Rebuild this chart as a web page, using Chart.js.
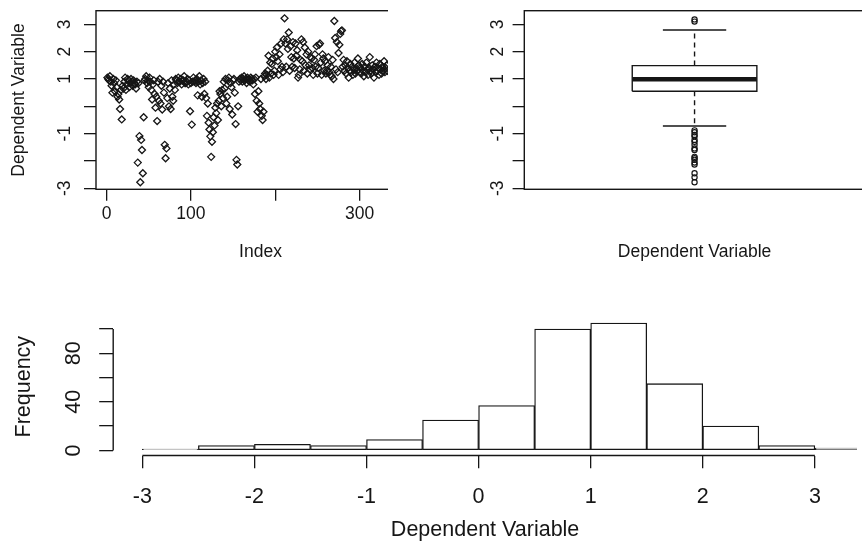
<!DOCTYPE html>
<html>
<head>
<meta charset="utf-8">
<script src="https://cdn.jsdelivr.net/npm/chart.js@4.4.1/dist/chart.umd.min.js"></script>
<style>
  html, body { margin: 0; padding: 0; background: #fff; overflow: hidden; }
  #page { position: relative; width: 862px; height: 545px; overflow: hidden; background: #fff; }
  .panel { position: absolute; overflow: hidden; }
  canvas { display: block; }
</style>
</head>
<body>
<div id="page">
  <div class="panel" style="left:0;top:0;width:388px;height:290px"><canvas id="indexChart" width="440" height="290"></canvas></div>
  <div class="panel" style="left:430px;top:0;width:432px;height:290px"><canvas id="boxChart" width="440" height="290"></canvas></div>
  <div class="panel" style="left:0;top:290px;width:862px;height:255px"><canvas id="histChart" width="920" height="255"></canvas></div>
</div>
<script>
const depValues = [
  1.05, 1.0, 0.95, 1.1, 0.9, 0.75, 0.5, 1.0, 0.85, 0.55,
  0.95, 0.7, 0.35, 0.45, 0.25, -0.1, 0.6, -0.48, 0.75, 0.65,
  0.9, 1.05, 0.6, 0.8, 1.0, 0.95, 0.7, 0.85, 1.0, 0.9,
  0.75, 0.95, 0.85, 0.8, 0.65, 0.9, -2.06, 0.85, -1.09, -2.78,
  -1.23, -1.6, -2.45, -0.4, 0.95, 1.0, 1.1, 0.85, 0.95, 0.7,
  1.05, 0.9, 0.6, 0.25, 0.8, 0.95, 0.45, -0.05, 0.35, -0.54,
  0.9, 0.2, 1.0, 0.1, 0.75, -0.12, 0.9, 0.5, -1.41, -1.9,
  -1.54, 0.3, 0.85, 0.0, 0.65, -0.1, 0.95, 0.35, 0.2, 0.8,
  0.6, 1.0, 0.95, 0.85, 1.05, 0.9, 0.9, 1.0, 0.8, 0.95,
  0.95, 1.1, 0.85, 0.85, 0.9, 1.0, 0.8, 0.95, -0.18, 0.85,
  -0.67, 0.9, 1.05, 0.9, 0.95, 0.85, 1.0, 0.4, 0.9, 1.1,
  0.8, 0.95, 0.35, 0.85, 1.0, 0.45, 0.9, 0.3, -0.35, 0.1,
  -0.6, -0.85, -1.1, -1.85, -1.3, -0.95, -0.4, -0.7, -0.05, -0.25,
  0.1, -0.5, 0.2, 0.55, 0.45, 0.0, 0.6, 0.3, 0.9, 0.65,
  1.0, 0.1, 0.35, 0.95, 1.05, -0.1, 0.85, 0.7, -0.3, 0.95,
  1.0, 0.5, -0.65, -1.96, -2.13, 0.0, 0.9, 1.0, 0.95, 1.05,
  0.9, 1.0, 1.1, 0.95, 1.0, 0.85, 1.05, 0.95, 1.0, 0.9,
  1.05, 1.0, 0.95, 0.8, 1.0, 0.45, 1.05, 0.2, -0.2, 0.55,
  0.1, -0.1, 1.0, -0.35, -0.5, -0.2, 1.1, 1.2, 1.0, 1.15,
  1.3, 1.85, 1.05, 1.6, 1.2, 1.55, 1.75, 1.15, 1.3, 2.0,
  1.8, 2.15, 1.65, 1.15, 1.9, 1.35, 2.3, 1.45, 1.25, 2.45,
  3.22, 2.3, 1.45, 2.45, 2.1, 2.7, 1.3, 2.2, 1.8, 1.45,
  2.35, 1.75, 1.4, 2.3, 1.85, 2.05, 1.05, 1.15, 1.35, 1.7,
  2.45, 1.65, 2.35, 1.3, 2.15, 1.5, 1.9, 1.2, 2.0, 1.5,
  1.35, 1.8, 1.75, 1.4, 1.15, 1.7, 1.9, 1.45, 2.2, 1.2,
  1.4, 2.25, 2.3, 1.6, 1.15, 1.9, 1.75, 1.3, 1.65, 1.2,
  1.3, 1.5, 1.8, 1.25, 1.15, 1.45, 1.1, 1.7, 1.0, 3.12,
  2.5, 1.35, 2.35, 1.25, 1.95, 2.25, 2.65, 2.75, 2.78, 1.45,
  1.7, 1.3, 1.5, 1.2, 1.65, 1.4, 1.05, 1.3, 1.55, 1.25,
  1.45, 1.15, 1.35, 1.6, 1.2, 1.4, 1.3, 1.75, 1.5, 1.25,
  1.4, 1.2, 1.55, 1.3, 1.1, 1.45, 1.25, 1.6, 1.35, 1.15,
  1.4, 1.8, 1.3, 1.2, 1.5, 1.35, 1.05, 1.45, 1.25, 1.6,
  1.3, 1.4, 1.15, 1.55, 1.35, 1.2, 1.45, 1.3, 1.65, 1.25, 1.4, 1.5, 1.3
];
const indexTicks = [0, 100, 200, 300];
const indexLabelled = [0, 100, 300];
const depTicks = [-3, -2, -1, 0, 1, 2, 3];
const depLabelled = [-3, -1, 1, 2, 3];

// boxplot: lower whisker, Q1, median, Q3, upper whisker
const boxStats = [-0.72, 0.55, 0.99, 1.49, 2.79];
const boxOutliers = [-0.88, -0.95, -1.05, -1.1, -1.23, -1.3, -1.41, -1.54, -1.6,
  -1.85, -1.9, -1.96, -2.06, -2.13, -2.45, -2.6, -2.78, 3.1, 3.18];

// histogram
const histBreaks = [-3, -2.5, -2, -1.5, -1, -0.5, 0, 0.5, 1, 1.5, 2, 2.5, 3, 3.5];
const histCounts = [1, 4, 5, 4, 9, 25, 37, 100, 105, 55, 20, 4, 2];
const histXTicks = [-3, -2, -1, 0, 1, 2, 3];
const histYTicks = [0, 20, 40, 60, 80, 100];
const freqLabelled = [0, 40, 80];

const INK = '#161616';
const FONT = "'Liberation Sans', Arial, sans-serif";
Chart.defaults.font.family = FONT;
Chart.defaults.color = INK;

// R style: box / partial axis lines and y labels turned to read upwards
const rPlot = {
  id: 'rPlot',
  afterDraw(chart, args, opts) {
    const ctx = chart.ctx;
    const area = chart.chartArea;
    ctx.save();
    ctx.strokeStyle = INK;
    ctx.lineWidth = 1.4;
    if (opts.box) {
      ctx.strokeRect(area.left, area.top, area.right - area.left, area.bottom - area.top);
    }
    (opts.axisLines || []).forEach(a => {
      const s = chart.scales[a.scale];
      const p0 = s.getPixelForValue(a.from);
      const p1 = s.getPixelForValue(a.to);
      ctx.beginPath();
      if (s.isHorizontal()) { ctx.moveTo(p0, area.bottom); ctx.lineTo(p1, area.bottom); }
      else { ctx.moveTo(area.left, p0); ctx.lineTo(area.left, p1); }
      ctx.stroke();
    });
    if (opts.yLabels) {
      const s = chart.scales.y;
      ctx.fillStyle = INK;
      ctx.font = opts.yLabels.size + 'px ' + FONT;
      ctx.textAlign = 'center';
      ctx.textBaseline = 'middle';
      opts.yLabels.values.forEach(v => {
        ctx.save();
        ctx.translate(opts.yLabels.x, s.getPixelForValue(v));
        ctx.rotate(-Math.PI / 2);
        ctx.fillText(String(v), 0, 0);
        ctx.restore();
      });
    }
    ctx.restore();
  }
};
Chart.register(rPlot);

const setTicks = values => s => { s.ticks = values.map(v => ({ value: v })); };
const fixWidth = w => s => { s.width = w; };
const fixHeight = h => s => { s.height = h; };
const tickMarks = len => ({ display: true, drawOnChartArea: false, drawTicks: true, offset: false,
  tickLength: len, tickColor: INK, tickWidth: 1.3, color: INK, lineWidth: 1.3 });

function baseOptions(padding, plot) {
  return {
    responsive: false,
    animation: false,
    devicePixelRatio: 1,
    events: [],
    layout: { padding },
    plugins: { legend: { display: false }, tooltip: { enabled: false }, rPlot: plot }
  };
}

// index plot
new Chart(document.getElementById('indexChart'), {
  type: 'scatter',
  data: {
    datasets: [{
      data: depValues.map((v, i) => ({ x: i + 1, y: v })),
      pointStyle: 'rectRot',
      pointRadius: 3.5,
      pointBorderWidth: 1.3,
      pointBorderColor: INK,
      pointBackgroundColor: 'rgba(0,0,0,0)'
    }]
  },
  options: Object.assign(baseOptions({ left: 0, top: 10.7, right: 15, bottom: 0 },
    { box: true, yLabels: { values: depLabelled, x: 65.5, size: 17.5 } }), {
    scales: {
      x: {
        type: 'linear', min: -12.5, max: 377.5,
        afterBuildTicks: setTicks(indexTicks), afterFit: fixHeight(100.7),
        ticks: { callback: v => indexLabelled.includes(v) ? String(v) : '', font: { size: 17.5 },
          padding: 2.7, autoSkip: false, maxRotation: 0 },
        grid: tickMarks(11.5), border: { display: false },
        title: { display: true, text: 'Index', font: { size: 17.5 }, padding: { top: 0, bottom: 27.5 } }
      },
      y: {
        type: 'linear', min: -3.037, max: 3.498,
        afterBuildTicks: setTicks(depTicks), afterFit: fixWidth(96),
        ticks: { display: false },
        grid: tickMarks(12), border: { display: false },
        title: { display: true, text: 'Dependent Variable', font: { size: 17.5 }, padding: { top: 9, bottom: 0 } }
      }
    }
  })
});

// boxplot
const [lowW, q1, med, q3, upW] = boxStats;
const BOX_HW = 0.183;
const CAP_HW = 0.093;
const seg = (pts, extra) => Object.assign({ data: pts, showLine: true, borderColor: INK, borderWidth: 1.4,
  pointRadius: 0, fill: false }, extra);

new Chart(document.getElementById('boxChart'), {
  type: 'scatter',
  data: {
    datasets: [
      seg([{ x: 1, y: q3 }, { x: 1, y: upW }], { borderDash: [5, 4] }),
      seg([{ x: 1, y: q1 }, { x: 1, y: lowW }], { borderDash: [5, 4] }),
      seg([{ x: 1 - CAP_HW, y: upW }, { x: 1 + CAP_HW, y: upW }]),
      seg([{ x: 1 - CAP_HW, y: lowW }, { x: 1 + CAP_HW, y: lowW }]),
      seg([{ x: 1 - BOX_HW, y: q1 }, { x: 1 + BOX_HW, y: q1 }, { x: 1 + BOX_HW, y: q3 },
        { x: 1 - BOX_HW, y: q3 }, { x: 1 - BOX_HW, y: q1 }]),
      seg([{ x: 1 - BOX_HW, y: med }, { x: 1 + BOX_HW, y: med }], { borderWidth: 4.5 }),
      {
        data: boxOutliers.map(v => ({ x: 1, y: v })),
        showLine: false, pointStyle: 'circle', pointRadius: 2.6, pointBorderWidth: 1.2,
        pointBorderColor: INK, pointBackgroundColor: 'rgba(0,0,0,0)'
      }
    ]
  },
  options: Object.assign(baseOptions({ left: 0, top: 10.7, right: 3.7, bottom: 0 },
    { box: true, yLabels: { values: depLabelled, x: 68, size: 17.5 } }), {
    scales: {
      x: {
        type: 'linear', min: 0.5, max: 1.5, afterFit: fixHeight(100.7),
        ticks: { display: false }, grid: { display: false }, border: { display: false },
        title: { display: true, text: 'Dependent Variable', font: { size: 17.5 }, padding: { top: 0, bottom: 27 } }
      },
      y: {
        type: 'linear', min: -3.037, max: 3.498,
        afterBuildTicks: setTicks(depTicks), afterFit: fixWidth(94.3),
        ticks: { display: false },
        grid: tickMarks(11.7), border: { display: false }
      }
    }
  })
});

// histogram
new Chart(document.getElementById('histChart'), {
  type: 'bar',
  data: {
    datasets: [{
      data: histCounts.map((c, i) => ({ x: (histBreaks[i] + histBreaks[i + 1]) / 2, y: c })),
      backgroundColor: '#ffffff',
      borderColor: INK,
      borderWidth: 1.3,
      borderSkipped: false,
      barPercentage: 1,
      categoryPercentage: 1
    }]
  },
  options: Object.assign(baseOptions({ left: 0, top: 27.9, right: 63, bottom: 0 },
    { axisLines: [{ scale: 'x', from: -3, to: 3 }, { scale: 'y', from: 0, to: 100 }],
      yLabels: { values: freqLabelled, x: 74, size: 21.5 } }), {
    scales: {
      x: {
        type: 'linear', offset: false, min: -3.26, max: 3.376,
        afterBuildTicks: setTicks(histXTicks), afterFit: fixHeight(89.5),
        ticks: { callback: v => String(v), font: { size: 21.5 }, padding: 15.6, autoSkip: false, maxRotation: 0 },
        grid: tickMarks(12.7), border: { display: false },
        title: { display: true, text: 'Dependent Variable', font: { size: 21.5 }, padding: { top: 0, bottom: 2.1 } }
      },
      y: {
        type: 'linear', min: -4.2, max: 109.2,
        afterBuildTicks: setTicks(histYTicks), afterFit: fixWidth(113.2),
        ticks: { display: false },
        grid: tickMarks(14), border: { display: false },
        title: { display: true, text: 'Frequency', font: { size: 21.5 }, padding: { top: 11.1, bottom: 0 } }
      }
    }
  })
});
</script>
</body>
</html>
